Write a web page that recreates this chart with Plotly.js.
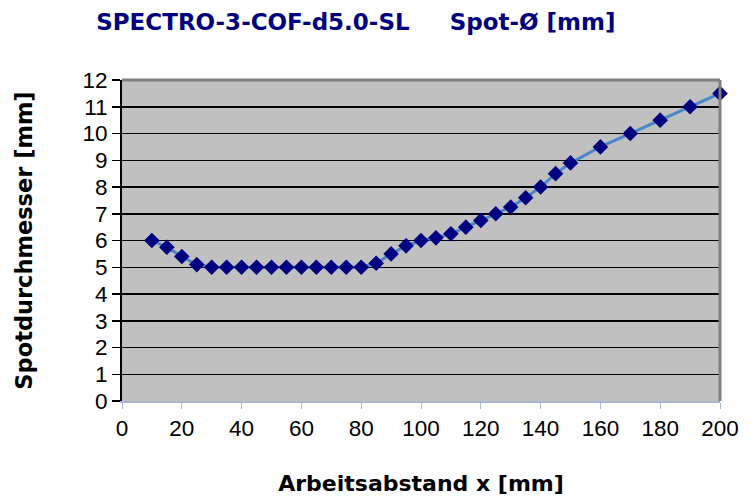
<!DOCTYPE html>
<html>
<head>
<meta charset="utf-8">
<script src="https://cdn.plot.ly/plotly-3.0.1.min.js"></script>
<style>html,body{margin:0;padding:0;background:#fff;}#chart{width:754px;height:502px;}</style>
</head>
<body>
<div id="chart"></div>
<script>
const distance = [10,15,20,25,30,35,40,45,50,55,60,65,70,75,80,85,90,95,100,105,110,115,120,125,130,135,140,145,150,160,170,180,190,200];
const spotDiameter = [6.0,5.75,5.4,5.1,5.0,5.0,5.0,5.0,5.0,5.0,5.0,5.0,5.0,5.0,5.0,5.15,5.5,5.8,6.0,6.1,6.25,6.5,6.75,7.0,7.25,7.6,8.0,8.5,8.9,9.5,10.0,10.5,11.0,11.5];
const xTicks = [0,20,40,60,80,100,120,140,160,180,200];
const yTicks = [0,1,2,3,4,5,6,7,8,9,10,11,12];
const chartTitle = 'SPECTRO-3-COF-d5.0-SL&nbsp;&nbsp;&nbsp;&nbsp;&nbsp;Spot-Ø [mm]';
const xTitle = 'Arbeitsabstand x [mm]';
const yTitle = 'Spotdurchmesser [mm]';

const trace = {
  x: distance, y: spotDiameter, type: 'scatter', mode: 'lines+markers',
  line: {color: '#4a86c8', width: 3},
  marker: {symbol: 'diamond', size: 12, color: '#000080', line: {width: 0}},
  cliponaxis: false, hoverinfo: 'skip'
};

const layout = {
  width: 754, height: 502,
  margin: {l: 122, r: 34, t: 80, b: 101},
  paper_bgcolor: '#ffffff', plot_bgcolor: '#c0c0c0',
  showlegend: false,
  title: {text: chartTitle, font: {family: 'DejaVu Sans, Arial', size: 23, color: '#000080', weight: 'bold'},
          x: 0.472, xref: 'container', xanchor: 'center', y: 0.957, yref: 'container', yanchor: 'middle'},
  xaxis: {
    range: [0, 200], tickvals: xTicks, ticktext: xTicks.map(String),
    showgrid: false, zeroline: false,
    showline: true, linecolor: '#a8b8d4', linewidth: 2,
    ticks: 'outside', ticklen: 6, tickwidth: 1, tickcolor: '#a8b8d4',
    tickfont: {family: 'Liberation Sans, Arial', size: 22.5, color: '#000000'},
    title: {text: xTitle, standoff: 36, font: {family: 'DejaVu Sans, Arial', size: 22, color: '#000000', weight: 'bold'}}
  },
  yaxis: {
    range: [0, 12], tickvals: yTicks, ticktext: yTicks.map(String),
    showgrid: true, gridcolor: '#000000', gridwidth: 1.5, zeroline: false,
    showline: true, linecolor: '#000000', linewidth: 2,
    ticks: 'outside', ticklen: 8, tickwidth: 1.5, tickcolor: '#000000',
    tickfont: {family: 'Liberation Sans, Arial', size: 22.5, color: '#000000'},
    title: {text: yTitle, standoff: 44, font: {family: 'DejaVu Sans, Arial', size: 22.5, color: '#000000', weight: 'bold'}}
  },
  shapes: [
    {type: 'line', xref: 'paper', yref: 'paper', x0: 0, x1: 1, y0: 1, y1: 1, line: {color: '#808080', width: 3}},
    {type: 'line', xref: 'paper', yref: 'paper', x0: 1, x1: 1, y0: 0, y1: 1, line: {color: '#808080', width: 3}}
  ]
};

Plotly.newPlot('chart', [trace], layout, {displayModeBar: false, staticPlot: true});
</script>
</body>
</html>
